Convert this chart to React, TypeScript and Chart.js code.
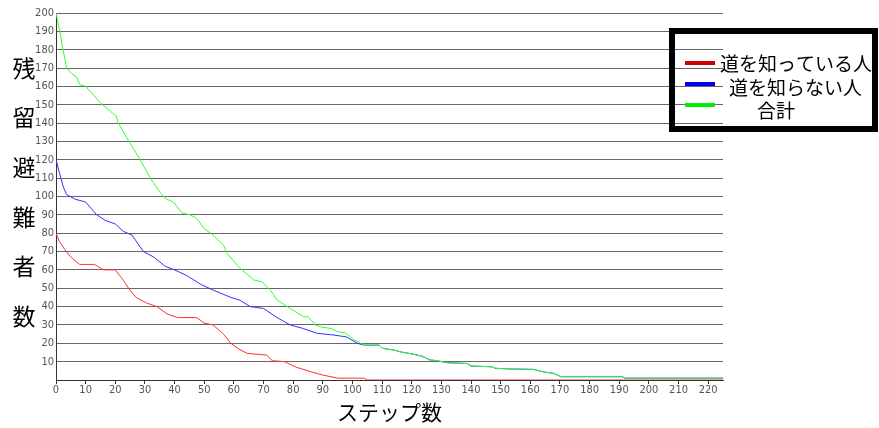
import { useEffect, useRef } from "react";
import { Chart, registerables } from "chart.js";

Chart.register(...registerables);

const xTitle = "ステップ数";
const yTitle = "残留避難者数";
const seriesNames = ["道を知っている人", "道を知らない人", "合計"];
const seriesColors = ["#ff3030", "#3030ff", "#30ff30"];
const legendColors = ["#cc0000", "#0000ee", "#00ee00"];

const xMax = 225;
const yMax = 200;
const xTickValues = [0, 10, 20, 30, 40, 50, 60, 70, 80, 90, 100, 110, 120, 130, 140, 150, 160, 170, 180, 190, 200, 210, 220];

// 道を知っている人
const knowSteps = [0, 1, 3, 5, 8, 13, 16, 20, 22, 24.5, 27, 30.5, 34, 37.5, 41, 47.5, 50, 53, 56.5, 59, 61.5, 64.5, 71, 73, 77, 81, 87, 90, 95, 104, 105, 225];
const knowValues = [80, 76, 71, 67, 63, 63, 60, 60, 56, 50, 45, 42, 40, 36, 34, 34, 31, 30, 25, 20, 17, 14.5, 13.6, 10.5, 10, 7, 4, 2.7, 1, 1, 0, 0];

// 道を知らない人
const unknownSteps = [0, 1.3, 2.5, 3.6, 6.5, 10, 13.7, 16.6, 20, 22.7, 25.6, 29.5, 33, 36.8, 40, 44, 49, 53, 59, 62, 65.5, 70, 74.6, 79, 83.5, 88, 93.6, 98, 101.6, 104, 109, 110, 114, 116, 120.7, 123.5, 126, 128.6, 132, 138.7, 140, 147.2, 148, 153.4, 161, 164.5, 168, 170.3, 191, 192, 225];
const unknownValues = [120, 112, 105, 101, 98.5, 97, 90, 87, 85, 81, 79, 70, 67, 62, 60, 57, 52, 49, 45, 43.5, 40, 39, 34, 30, 28, 25.5, 24.5, 23.5, 20, 19, 19, 17.3, 16.3, 15.4, 14, 13, 11, 10.5, 9.4, 9, 7.6, 7.2, 6.4, 6, 5.8, 4.4, 3.6, 1.8, 1.8, 1, 1];

// 合計
const totalSteps = [0, 1.3, 2, 3.6, 5.3, 7, 8, 10, 15, 19.4, 20.3, 21, 25, 28.4, 31.8, 35, 36.8, 39.6, 42.5, 45.3, 47.5, 50, 53, 56.5, 57.7, 62, 66.7, 69.5, 72.3, 74.6, 78, 83.5, 85, 87.5, 89, 93, 95, 97.6, 100.4, 104, 109, 110, 114, 116, 120.7, 123.5, 126, 128.6, 132, 138.7, 140, 147.2, 148, 153.4, 161, 164.5, 168, 170.3, 191, 192, 225];
const totalValues = [200, 190, 183, 170, 167, 165, 161, 160, 151, 145, 144, 140, 129, 120, 110, 102.5, 99, 97, 91, 90, 88, 82.5, 79, 73.5, 69, 61, 54.5, 53.5, 49, 43.5, 40, 34.5, 34.5, 30, 29, 28, 26.3, 25.7, 22, 19, 19, 17.3, 16.3, 15.4, 14, 13, 11, 10.5, 9.4, 9, 7.6, 7.2, 6.4, 6, 5.8, 4.4, 3.6, 1.8, 1.8, 1, 1];

const toPoints = (xs: number[], ys: number[]) => xs.map((x, i) => ({ x, y: ys[i] }));

const tickFont = { family: "'DejaVu Sans Condensed', 'Liberation Sans Narrow', sans-serif", size: 11 };
const cjk = '"Noto Sans CJK JP", "Noto Sans CJK SC", sans-serif';

const decorPlugin = {
  id: "decor",
  afterDraw(chart: any) {
    const ctx = chart.ctx as CanvasRenderingContext2D;
    const { left, right } = chart.chartArea;
    ctx.save();
    ctx.fillStyle = "#000";
    ctx.textAlign = "center";
    ctx.textBaseline = "middle";
    ctx.font = `23px ${cjk}`;
    Array.from(yTitle).forEach((c, i) => ctx.fillText(c, 24, 68 + i * 49.6));
    ctx.font = `21px ${cjk}`;
    ctx.fillText(xTitle, (left + right) / 2, 412);

    // legend box
    ctx.strokeStyle = "#000";
    ctx.lineWidth = 6;
    ctx.strokeRect(672, 31, 203, 98);
    const lineYs = [63, 84, 105];
    const textYs = [64, 88, 111];
    const textXs = [720, 729, 757];
    ctx.font = `19px ${cjk}`;
    ctx.textAlign = "left";
    seriesNames.forEach((name, i) => {
      ctx.strokeStyle = legendColors[i];
      ctx.lineWidth = 4;
      ctx.beginPath();
      ctx.moveTo(685, lineYs[i]);
      ctx.lineTo(715, lineYs[i]);
      ctx.stroke();
      ctx.fillStyle = "#000";
      ctx.fillText(name, textXs[i], textYs[i]);
    });
    ctx.restore();
  },
};

export default function App() {
  const ref = useRef<HTMLCanvasElement | null>(null);
  useEffect(() => {
    document.body.style.margin = "0";
    if (!ref.current) return;
    const chart = new Chart(ref.current, {
      type: "line",
      data: {
        datasets: [
          { label: seriesNames[2], data: toPoints(totalSteps, totalValues), borderColor: seriesColors[2], order: 0 },
          { label: seriesNames[1], data: toPoints(unknownSteps, unknownValues), borderColor: seriesColors[1], order: 1 },
          { label: seriesNames[0], data: toPoints(knowSteps, knowValues), borderColor: seriesColors[0], order: 2 },
        ].map((d) => ({ ...d, borderWidth: 1, pointRadius: 0, fill: false, tension: 0 })),
      },
      options: {
        animation: false,
        responsive: false,
        layout: { padding: { left: 0, right: 156, top: 13, bottom: 0 } },
        plugins: { legend: { display: false }, tooltip: { enabled: false }, title: { display: false } },
        scales: {
          x: {
            type: "linear",
            min: 0,
            max: xMax,
            afterFit: (s: any) => { s.height = 48; },
            afterBuildTicks: (s: any) => { s.ticks = xTickValues.map((value) => ({ value })); },
            ticks: { color: "#555", font: tickFont, padding: 0, maxRotation: 0, autoSkip: false },
            grid: { drawOnChartArea: false, drawTicks: true, tickLength: 4, color: "#333" },
            border: { color: "#333" },
          },
          y: {
            min: 0,
            max: yMax,
            afterFit: (s: any) => { s.width = 56; },
            ticks: { stepSize: 10, color: "#555", font: tickFont, padding: 2, callback: (v: any) => (v === 0 ? "" : String(v)) },
            grid: { drawTicks: false, color: "#666", lineWidth: 1 },
            border: { color: "#333" },
          },
        },
      },
      plugins: [decorPlugin],
    });
    return () => chart.destroy();
  }, []);
  return (
    <div style={{ width: 879, height: 428, background: "#fff" }}>
      <canvas ref={ref} width={879} height={428} style={{ display: "block" }} />
    </div>
  );
}
